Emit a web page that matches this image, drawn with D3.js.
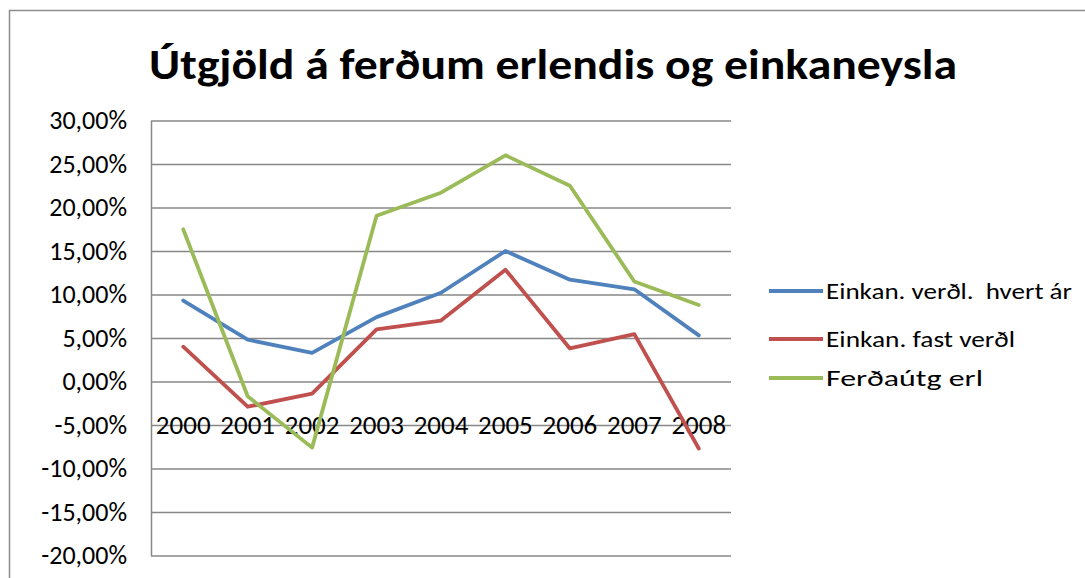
<!DOCTYPE html>
<html>
<head>
<meta charset="utf-8">
<script src="https://cdn.jsdelivr.net/npm/d3@7"></script>
<style>
  html, body { margin: 0; padding: 0; background: #fff; }
  svg { display: block; }
  text { font-family: Carlito, Calibri, "Open Sans", "Noto Sans", sans-serif; fill: #000; }
</style>
</head>
<body>
<svg id="chart" width="1085" height="578"></svg>
<script>
const title = "Útgjöld á ferðum erlendis og einkaneysla";
const years = ["2000","2001","2002","2003","2004","2005","2006","2007","2008"];
const seriesNames = ["Einkan. verðl.  hvert ár", "Einkan. fast verðl", "Ferðaútg erl"];
const seriesColors = ["#4F81BD", "#C0504D", "#9BBB59"];
const verdlHvertAr = [0.093, 0.048, 0.033, 0.074, 0.102, 0.150, 0.117, 0.106, 0.053];
const fastVerdl    = [0.040, -0.029, -0.014, 0.060, 0.070, 0.1285, 0.038, 0.0545, -0.077];
const ferdautgErl  = [0.175, -0.017, -0.076, 0.1905, 0.217, 0.260, 0.225, 0.115, 0.088];
const yTicks = [-0.20, -0.15, -0.10, -0.05, 0, 0.05, 0.10, 0.15, 0.20, 0.25, 0.30];

const seriesValues = [verdlHvertAr, fastVerdl, ferdautgErl];

const svg = d3.select("#chart");
const plot = { left: 151, right: 731, top: 120.5, bottom: 555.5 };

// outer chart border
svg.append("rect")
  .attr("x", 9.5).attr("y", 10.5)
  .attr("width", 1200).attr("height", 700)
  .attr("fill", "#fff")
  .attr("stroke", "#8c8c8c").attr("stroke-width", 1.5);

// title
svg.append("text")
  .attr("x", 553).attr("y", 79)
  .attr("text-anchor", "middle")
  .attr("font-size", 42).attr("font-weight", "bold")
  .attr("textLength", 808).attr("lengthAdjust", "spacingAndGlyphs")
  .text(title);

const x = d3.scaleBand().domain(years).range([plot.left, plot.right]);
const y = d3.scaleLinear().domain([-0.20, 0.30]).range([plot.bottom, plot.top]);
const cx = d => x(d) + x.bandwidth() / 2;

const locale = d3.formatLocale({ decimal: ",", thousands: ".", grouping: [3], currency: ["", " kr"], minus: "-" });
const pct = locale.format(".2%");

// y axis with gridlines
const yAxis = d3.axisLeft(y)
  .tickValues(yTicks)
  .tickFormat(pct)
  .tickSizeInner(-(plot.right - plot.left))
  .tickSizeOuter(0)
  .tickPadding(24);

const gy = svg.append("g")
  .attr("transform", `translate(${plot.left},0)`)
  .call(yAxis);
gy.select(".domain").attr("stroke", "#878787").attr("stroke-width", 1.5);
gy.selectAll(".tick line").attr("stroke", "#878787").attr("stroke-width", 1.5);
gy.selectAll(".tick text")
  .attr("font-size", 26)
  .attr("fill", "#000")
  .attr("font-family", 'Carlito, Calibri, "Open Sans", sans-serif');

// x axis labels (category axis at 0, labels below)
const xAxis = d3.axisBottom(x).tickSize(0).tickPadding(0);
const gx = svg.append("g")
  .attr("transform", `translate(0,${y(0)})`)
  .call(xAxis);
gx.select(".domain").remove();
gx.selectAll(".tick text")
  .attr("font-size", 27)
  .attr("fill", "#000")
  .attr("font-family", 'Carlito, Calibri, "Open Sans", sans-serif')
  .attr("y", y(-0.05) - y(0))
  .attr("dy", "0.33em");

// lines
const line = d3.line()
  .x((d, i) => cx(years[i]))
  .y(d => y(d));

seriesValues.forEach((vals, k) => {
  svg.append("path")
    .datum(vals)
    .attr("fill", "none")
    .attr("stroke", seriesColors[k])
    .attr("stroke-width", 3.8)
    .attr("stroke-linejoin", "round")
    .attr("stroke-linecap", "round")
    .attr("d", line);
});

// legend
const legendY = [291, 339, 378];
const legendW = [246, 189, 157];
const lg = svg.append("g");
seriesNames.forEach((name, k) => {
  lg.append("line")
    .attr("x1", 769).attr("x2", 823)
    .attr("y1", legendY[k]).attr("y2", legendY[k])
    .attr("stroke", seriesColors[k]).attr("stroke-width", 4);
  lg.append("text")
    .attr("x", 826).attr("y", legendY[k])
    .attr("dy", "0.35em")
    .attr("font-size", 23)
    .style("white-space", "pre")
    .attr("textLength", legendW[k]).attr("lengthAdjust", "spacingAndGlyphs")
    .text(name);
});
</script>
</body>
</html>
